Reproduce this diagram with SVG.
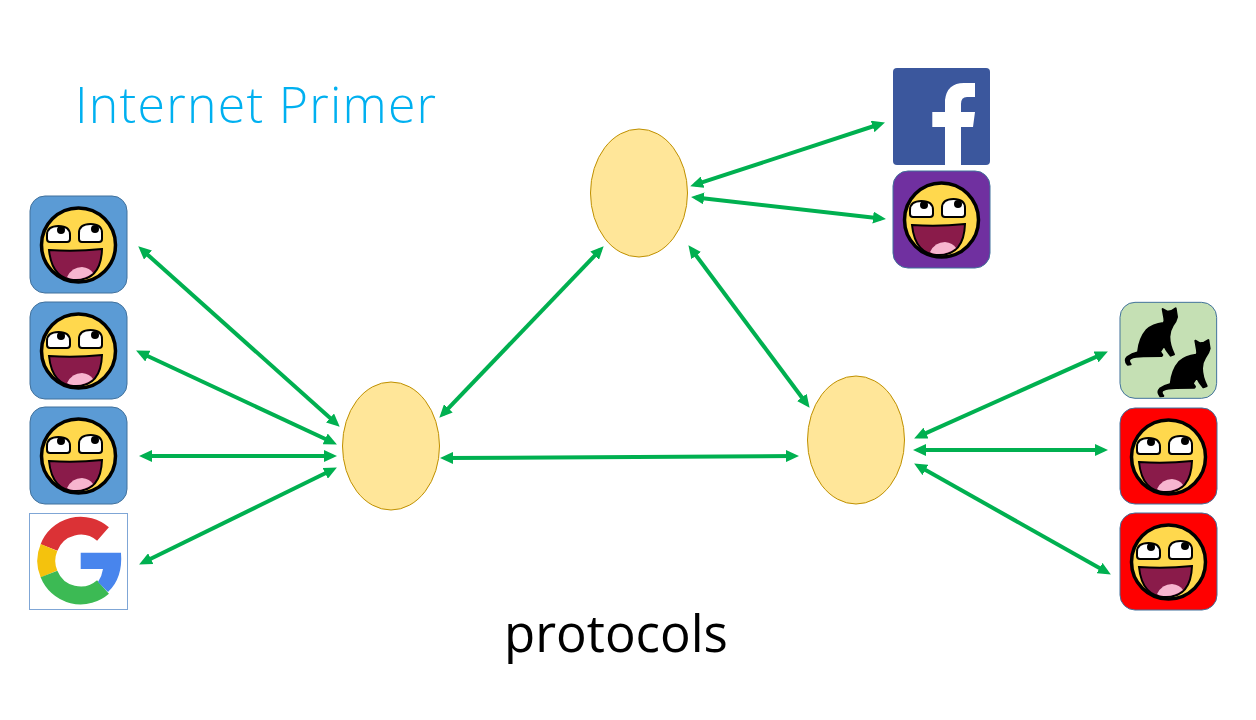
<svg xmlns="http://www.w3.org/2000/svg" width="1256" height="720" viewBox="0 0 1256 720">
<style>
.hub{fill:#FFE699;stroke:#BF9000;stroke-width:1}
.link{fill:none;stroke:#00B050;stroke-width:4;marker-start:url(#a);marker-end:url(#a)}
.tile{stroke:#41719C;stroke-width:1}
.t{font-family:"Open Sans","Liberation Sans",sans-serif}
</style>
<defs>
<marker id="a" viewBox="0 0 13 12" refX="8" refY="6" markerWidth="13" markerHeight="12" markerUnits="userSpaceOnUse" orient="auto-start-reverse"><path d="M0 0L13 6L0 12Z" fill="#00B050"/></marker>
<g id="face">
<circle cx="48.500" cy="49" r="37" fill="#FFD84D" stroke="#000" stroke-width="3.500"/>
<path d="M17 43V39Q17 30 28.500 30Q40 30 40 39V43Q40 46 37 46H20Q17 46 17 43Z" fill="#fff" stroke="#000" stroke-width="2"/>
<path d="M49 43V37Q49 28 60.500 28Q72 28 72 37V43Q72 46 69 46H52Q49 46 49 43Z" fill="#fff" stroke="#000" stroke-width="2"/>
<circle cx="31" cy="34" r="4"/><circle cx="65" cy="33" r="4"/>
<path d="M19 54Q45 56 72 53Q71 84 46 84Q22 84 19 54Z" fill="#8A1B4A" stroke="#000" stroke-width="2"/>
<path d="M37 81Q42 71 52 71Q60 72 63 77Q55 83 46 83Q40 83 37 81Z" fill="#F7B5CF"/>
</g>
<path id="cat" stroke="#000" stroke-width="6" stroke-linejoin="round" d="M158 42L172 50L184 48L197 40L201 66Q198 80 188 92Q178 108 178 125Q178 150 192 178L182 182Q168 165 162 152L150 170L157 180L155 183L100 184Q75 184 62 190Q52 196 62 208L53 209Q42 195 52 186Q65 176 84 172Q88 130 110 105Q128 88 160 84Q165 82 163 70Z"/>
</defs>
<g id="title"><text class="t" x="75" y="123" font-size="50" font-weight="300" letter-spacing="1.250" fill="#00B0F0">Internet Primer</text></g>
<g id="label"><text class="t" x="504" y="652" font-size="51" fill="#000">protocols</text></g>
<g id="connectors">
<path class="link" d="M142 249.700L336 423.300"/>
<path class="link" d="M140.600 352.700L332.400 442.300"/>
<path class="link" d="M144 456L332 456"/>
<path class="link" d="M143.600 562.200L332.400 469.800"/>
<path class="link" d="M442.800 414.100L600.200 249.900"/>
<path class="link" d="M445 458L794 456"/>
<path class="link" d="M691.400 249.200L806.600 403.800"/>
<path class="link" d="M695 184.700L880.200 124"/>
<path class="link" d="M696 197.500L881 218.500"/>
<path class="link" d="M918.700 436.400L1103.300 353.600"/>
<path class="link" d="M918 450L1103 450"/>
<path class="link" d="M918.500 466L1106.500 572"/>
</g>
<g id="hub-left"><ellipse class="hub" cx="391" cy="446" rx="48.500" ry="64"/></g>
<g id="hub-top"><ellipse class="hub" cx="639" cy="193" rx="48.500" ry="64"/></g>
<g id="hub-right"><ellipse class="hub" cx="856" cy="440" rx="48.500" ry="64"/></g>
<g id="user-1" transform="translate(30 196)"><rect class="tile" width="97" height="97" rx="15" fill="#5B9BD5"/><use href="#face"/></g>
<g id="user-2" transform="translate(30 302)"><rect class="tile" width="97" height="97" rx="15" fill="#5B9BD5"/><use href="#face"/></g>
<g id="user-3" transform="translate(30 407)"><rect class="tile" width="97" height="97" rx="15" fill="#5B9BD5"/><use href="#face"/></g>
<g id="google">
<rect x="29.500" y="513.500" width="98" height="96" fill="#fff" stroke="#7FA6D6" stroke-width="1"/>
<path d="M103 534A34 34 0 0 0 49 547.500" fill="none" stroke="#DB3236" stroke-width="18"/>
<path d="M49 547.500A34 34 0 0 0 49 574" fill="none" stroke="#F4C20D" stroke-width="18"/>
<path d="M49 574A34 34 0 0 0 103 587" fill="none" stroke="#3CBA54" stroke-width="18"/>
<path d="M80.700 552.700H121Q123 578 108 592L98 582Q102 576 103 569H80.700Z" fill="#4885ED"/>
</g>
<g id="facebook">
<rect x="893" y="68" width="97" height="97" rx="4" fill="#3B579D"/>
<path d="M945 165V127H932.300V112H945V100Q947 83 964 83H975V97H967Q961 97 961 104V112H975L973 127H961V165Z" fill="#fff"/>
</g>
<g id="user-top" transform="translate(893 171)"><rect class="tile" width="97" height="97" rx="15" fill="#7030A0"/><use href="#face"/></g>
<g id="cats" transform="translate(1110 295) scale(.3333)">
<rect x="30" y="22" width="290" height="288" rx="45" fill="#C5E0B4" stroke="#41719C" stroke-width="3"/>
<use href="#cat"/><use href="#cat" x="98" y="95"/>
</g>
<g id="user-r1" transform="translate(1120 408)"><rect class="tile" width="97" height="96" rx="15" fill="#FF0000"/><use href="#face"/></g>
<g id="user-r2" transform="translate(1120 513)"><rect class="tile" width="97" height="97" rx="15" fill="#FF0000"/><use href="#face"/></g>
</svg>
